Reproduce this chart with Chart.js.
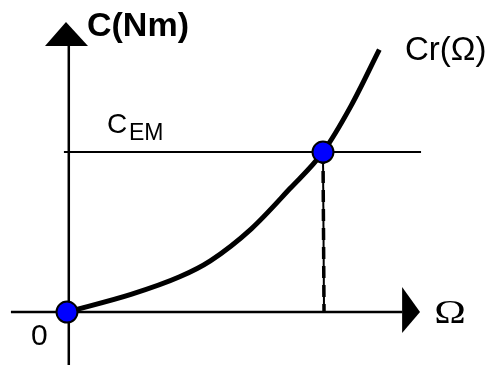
<!DOCTYPE html>
<html>
<head>
<meta charset="utf-8">
<script src="https://cdn.jsdelivr.net/npm/chart.js@4.4.0/dist/chart.umd.min.js"></script>
<style>
  html, body { margin: 0; padding: 0; background: #fff; }
  #wrap { width: 497px; height: 365px; position: relative; }
</style>
</head>
<body>
<div id="wrap"><canvas id="torqueChart"></canvas></div>
<script>
// load torque curve Cr(Omega), operating point where it meets C_EM
const omegaValues = [0, 25, 44, 56, 72, 87, 100, 111, 122];
const torqueValues = [0, 11, 22, 32, 52, 77, 100, 129, 164];
const cEm = 100;
const omegaOp = 100;

const ctx = document.getElementById('torqueChart').getContext('2d');

function pts(xs, ys) {
    return xs.map((x, i) => ({ x: x, y: ys[i] }));
}

// filled arrow heads + text labels, placed through the scales
const decorPlugin = {
    id: 'decor',
    afterDatasetsDraw(chart) {
        const c = chart.ctx;
        const sx = chart.scales.x, sy = chart.scales.y;
        const poly = (list) => {
            c.beginPath();
            list.forEach((p, i) => {
                const px = sx.getPixelForValue(p[0]);
                const py = sy.getPixelForValue(p[1]);
                if (i === 0) c.moveTo(px, py); else c.lineTo(px, py);
            });
            c.closePath();
            c.fillStyle = '#000';
            c.fill();
        };
        poly([[130.9, 15.6], [137.9, 0], [130.9, -13.1]]);
        poly([[-8.6, 166.2], [-0.4, 181.2], [8.2, 166.2]]);

        const ox = sx.getPixelForValue(0), oy = sy.getPixelForValue(0);
        const ey = sy.getPixelForValue(cEm);
        c.save();
        c.fillStyle = '#000';
        c.textBaseline = 'alphabetic';
        c.textAlign = 'left';

        c.font = 'bold 34px "Liberation Sans", Arial, sans-serif';
        c.fillText('C(Nm)', ox + 20, 36);

        c.font = '33px "Liberation Sans", Arial, sans-serif';
        c.fillText('Cr(\u03A9)', 405, 60);

        c.font = '28px "Liberation Sans", Arial, sans-serif';
        c.fillText('C', ox + 40, ey - 19);
        c.font = '23px "Liberation Sans", Arial, sans-serif';
        c.fillText('EM', ox + 62, ey - 12);

        c.font = '30px "Liberation Sans", Arial, sans-serif';
        c.fillText('0', ox - 36, oy + 33);

        // axis symbol, a little wider than the plain serif glyph
        c.font = '34px "Liberation Serif", "Times New Roman", serif';
        c.translate(sx.getPixelForValue(143.5), oy + 11);
        c.scale(1.25, 1);
        c.fillText('\u03A9', 0, 0);
        c.restore();
    }
};

new Chart(ctx, {
    type: 'scatter',
    data: {
        datasets: [{
            label: 'points',
            data: [{ x: 0, y: 0 }, { x: omegaOp, y: cEm }],
            showLine: false,
            pointRadius: 10.5,
            pointBackgroundColor: '#0000ff',
            pointBorderColor: '#000',
            pointBorderWidth: 2,
            order: 0
        }, {
            label: 'Cr',
            data: pts(omegaValues, torqueValues),
            showLine: true,
            borderColor: '#000',
            borderWidth: 5,
            pointRadius: 0,
            cubicInterpolationMode: 'monotone',
            order: 1
        }, {
            label: 'drop',
            data: [{ x: omegaOp, y: cEm }, { x: omegaOp + 0.4, y: 0 }],
            showLine: true,
            borderColor: '#000',
            borderWidth: 2,
            pointRadius: 0,
            order: 2
        }, {
            label: 'dropDash',
            data: [{ x: omegaOp, y: cEm }, { x: omegaOp + 0.4, y: 0 }],
            showLine: true,
            borderColor: '#000',
            borderWidth: 3.5,
            borderDash: [12, 7],
            pointRadius: 0,
            order: 2
        }, {
            label: 'cem',
            data: [{ x: -1.2, y: cEm }, { x: 138.3, y: cEm }],
            showLine: true,
            borderColor: '#000',
            borderWidth: 2,
            pointRadius: 0,
            order: 3
        }, {
            label: 'xAxis',
            data: [{ x: -21.9, y: 0 }, { x: 131, y: 0 }],
            showLine: true,
            borderColor: '#000',
            borderWidth: 2.5,
            pointRadius: 0,
            order: 3
        }, {
            label: 'yAxis',
            data: [{ x: 0.7, y: -40 }, { x: 0.7, y: 167 }],
            showLine: true,
            borderColor: '#000',
            borderWidth: 2.5,
            pointRadius: 0,
            order: 3
        }]
    },
    options: {
        responsive: true,
        maintainAspectRatio: false,
        animation: false,
        clip: false,
        layout: { padding: 0, autoPadding: false },
        scales: {
            x: { type: 'linear', min: -26.17, max: 167.97, display: false },
            y: { type: 'linear', min: -33.1, max: 195, display: false }
        },
        plugins: {
            legend: { display: false },
            tooltip: { enabled: false }
        }
    },
    plugins: [decorPlugin]
});
</script>
</body>
</html>
